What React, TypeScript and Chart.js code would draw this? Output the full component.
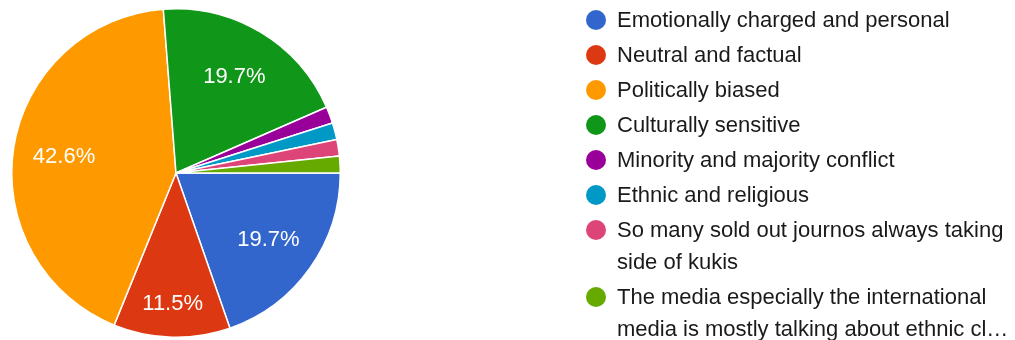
import { useEffect, useRef } from "react";
import { Chart, registerables } from "chart.js";

Chart.register(...registerables);

const categories: string[] = [
  "Emotionally charged and personal",
  "Neutral and factual",
  "Politically biased",
  "Culturally sensitive",
  "Minority and majority conflict",
  "Ethnic and religious",
  "So many sold out journos always taking side of kukis",
  "The media especially the international media is mostly talking about ethnic cl…",
];
const responses: number[] = [12, 7, 26, 12, 1, 1, 1, 1];
const sliceColors: string[] = [
  "#3366cc",
  "#dc3912",
  "#ff9900",
  "#109618",
  "#990099",
  "#0099c6",
  "#dd4477",
  "#66aa00",
];

const FONT = '"Liberation Sans", Arial, Helvetica, sans-serif';
const LEGEND_FONT_SIZE = 22;

function wrapText(ctx: CanvasRenderingContext2D, text: string, maxWidth: number): string[] {
  const words = text.split(" ");
  const lines: string[] = [];
  let cur = "";
  for (const w of words) {
    const test = cur ? cur + " " + w : w;
    if (ctx.measureText(test).width > maxWidth && cur) {
      lines.push(cur);
      cur = w;
    } else {
      cur = test;
    }
  }
  if (cur) lines.push(cur);
  return lines;
}

const percentPlugin = {
  id: "percentLabels",
  afterDatasetsDraw(chart: any) {
    const ctx: CanvasRenderingContext2D = chart.ctx;
    const meta = chart.getDatasetMeta(0);
    const data = chart.data.datasets[0].data as number[];
    const total = data.reduce((a, b) => a + b, 0);
    ctx.save();
    ctx.font = `22px ${FONT}`;
    ctx.fillStyle = "#ffffff";
    ctx.textAlign = "center";
    ctx.textBaseline = "middle";
    meta.data.forEach((arc: any, i: number) => {
      const frac = data[i] / total;
      if (frac < 0.05) return;
      const span = arc.endAngle - arc.startAngle;
      const mid = (arc.startAngle + arc.endAngle) / 2;
      const f = span < Math.PI / 3 ? 0.79 : 0.69;
      const r = arc.outerRadius * f;
      ctx.fillText((frac * 100).toFixed(1) + "%", arc.x + Math.cos(mid) * r, arc.y + Math.sin(mid) * r + 1);
    });
    ctx.restore();
  },
};

const sideLegendPlugin = {
  id: "sideLegend",
  afterDraw(chart: any) {
    const ctx: CanvasRenderingContext2D = chart.ctx;
    const labels = chart.data.labels as string[];
    const colors = chart.data.datasets[0].backgroundColor as string[];
    ctx.save();
    ctx.font = `${LEGEND_FONT_SIZE}px ${FONT}`;
    ctx.textBaseline = "middle";
    ctx.textAlign = "left";
    let y = 20;
    labels.forEach((label, i) => {
      const lines = wrapText(ctx, label, 395);
      ctx.fillStyle = colors[i];
      ctx.beginPath();
      ctx.arc(596, y, 10, 0, Math.PI * 2);
      ctx.fill();
      ctx.fillStyle = "#1a1a1a";
      lines.forEach((ln, j) => ctx.fillText(ln, 617, y + 1 + j * 32));
      y += 35 + (lines.length - 1) * 32;
    });
    ctx.restore();
  },
};

export default function App() {
  const canvasRef = useRef<HTMLCanvasElement | null>(null);

  useEffect(() => {
    if (!canvasRef.current) return;
    const chart = new Chart(canvasRef.current, {
      type: "pie",
      data: {
        labels: categories,
        datasets: [
          {
            data: responses,
            backgroundColor: sliceColors,
            borderColor: "#ffffff",
            borderWidth: 1.5,
          },
        ],
      },
      options: {
        responsive: false,
        animation: false,
        devicePixelRatio: 1,
        rotation: 90,
        layout: { padding: { left: 11, top: 8, right: 674, bottom: 2 } },
        plugins: {
          legend: { display: false },
          tooltip: { enabled: false },
        },
      },
      plugins: [percentPlugin, sideLegendPlugin],
    });
    return () => chart.destroy();
  }, []);

  return (
    <div style={{ position: "absolute", left: 0, top: 0, width: 1015, height: 340, background: "#ffffff" }}>
      <canvas ref={canvasRef} width={1015} height={340} style={{ display: "block" }} />
    </div>
  );
}
